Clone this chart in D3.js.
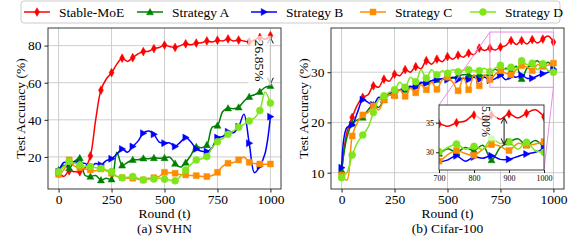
<!DOCTYPE html>
<html>
<head>
<meta charset="utf-8">
<script src="https://cdn.jsdelivr.net/npm/d3@7"></script>
<style>
  body { margin: 0; background: #fff; }
  svg { display: block; font-family: "Liberation Serif", "DejaVu Serif", serif; }
</style>
</head>
<body>
<div id="chart"></div>
<script>
// ---- data ----
const rounds = [0,25,50,75,100,125,150,175,200,225,250,275,300,325,350,375,400,425,450,475,
                500,525,550,575,600,625,650,675,700,725,750,775,800,825,850,875,900,925,950,975,1000];

const seriesNames = ["Stable-MoE", "Strategy A", "Strategy B", "Strategy C", "Strategy D"];

// (a) SVHN
const svhnStable = [12,9.5,12.5,12,12,14,20.5,40,56,62,65.4,70,73.2,71.5,73.5,75.5,76.8,77,78.4,79,
                    80.3,79.5,79,80,81,80.5,81.4,81.5,82.5,82,82.9,82.5,83.6,82.5,83,82.5,82,83,84.4,83.5,85.4];
const svhnA = [13,15.5,14,17.5,19.5,10,9.5,10,7.5,8.5,8,22.5,15.5,17,18.5,18.5,19.3,19,19.5,19.3,
               19.5,19.8,16.5,14.5,17,21,25.5,25,26.5,36,37,44.5,46.3,46,46.8,50,52.5,53.5,55.2,57.5,58.4];
const svhnB = [12,17,16.5,17.5,16.5,16.5,14.5,16.5,15.7,18,19,21.5,24.3,22.5,25.6,28.5,32.8,34,32.2,28,
               27.4,27.5,25.6,28,30.4,28,24.3,23,22.9,25,30.4,31,33.6,33,36.3,43,27.4,11.5,15,22,41.7];
const svhnC = [10.5,13,18.4,15,14.2,13.5,13,12.5,13.5,12.5,11.2,9.5,8.8,8.5,8.5,8,7.6,8.5,8.8,9.5,
               11.7,11.5,11.2,10.5,10.3,10,9.9,9.5,9.4,10,11.7,15,16.6,17,18.4,20,17.1,16.5,16.2,16,16.2];
const svhnD = [12,14.5,17.5,16.5,15.7,15,14.8,14.2,13.9,13,12.1,9.5,8.8,9,9.4,8.5,7.6,8,8.1,8.5,
               8,7.5,7.1,9.5,13,16,18.4,19,20.2,25,28.2,30,32.2,34,36,37.5,39.4,41,45,55,49];

// (b) Cifar-100
const cifStable = [10,18,21,23.5,25,25.5,27.3,27,28.6,28.2,29.6,29.3,30.5,30,31.1,30.7,32.3,31.6,32.6,32.1,
                   33.1,32.6,33.4,33,33.8,33.5,34.8,34.3,34.8,34.4,35,35.3,36.3,35.5,36.3,35.6,36.5,35.8,36.6,37.2,36];
const cifA = [10.5,17,19.8,20.5,21,22.5,23.5,23,24.5,25.5,25.5,26.5,26.5,27,27.3,27.8,28,28.3,28.5,28.7,
              29,28.8,29.3,29.5,29.5,29.2,29.5,29.3,29.8,30.6,30,30.8,30.3,31.2,28.7,30.8,31.7,32.3,31.2,32,30.8];
const cifB = [11,19,19.5,22,24.5,24,23.5,25,24.5,25.8,26,26.5,26.8,27.2,27,28,27.8,28.3,28.5,28.7,
              28.5,29,28.5,28.8,28.5,29,28.5,29,28.4,28.7,29.4,28.5,29.2,29,29.4,28.8,28.8,29.3,29.7,30,30.6];
const cifC = [9.5,8.5,17.3,20,21.5,22,23.3,22.5,24.5,25.5,25.3,26.5,25.2,26.8,25.9,27.5,26.5,28,26.6,28.5,
              29,28,26.3,29,26.5,29.5,27.3,29.5,28.5,29.6,30.3,29.8,29.5,30.5,31.3,31,30.3,31.5,31.2,31.4,31.8];
const cifD = [9,10,13.5,16,17.5,19,22,24.5,25.3,26,26.5,28,27,29,28.1,30.5,28.8,30.5,29.5,30.3,
              29.8,30.5,30.1,30.4,30.5,30.3,30.3,30.8,30.1,30.8,31.4,30.5,31,30.5,32.3,31.5,31.8,30.5,31.7,30.3,30];

const xTicks = [0, 250, 500, 750, 1000];
const svhnYTicks = [20, 40, 60, 80];
const cifYTicks = [10, 20, 30];
const insetXTicks = [700, 800, 900, 1000];
const insetYTicks = [30, 35];

// gap annotations: [round, upper value, lower value, label]
const svhnGap = [1000, 85.4, 58.4, "26.85%"];
const cifGap = [886, 35.9, 31.3, "5.00%"];

// ---- styles ----
const colors = ["#ff0000", "#008000", "#0000ff", "#ff8c00", "#7fe61c"];
const markers = ["thin_diamond", "triangle_up", "triangle_right", "square", "circle"];
const FONT = 13.5;
const W = 581, H = 242;
const fmt = d3.format("d");

const svg = d3.select("#chart").append("svg")
    .attr("width", W)
    .attr("height", H);
svg.append("rect").attr("width", W).attr("height", H).attr("fill", "#fff");
const defs = svg.append("defs");

function markerPath(type, s) {
  const h = s / 2;
  switch (type) {
    case "thin_diamond": return `M0,${-h * 1.25}L${h * 0.7},0L0,${h * 1.25}L${-h * 0.7},0Z`;
    case "triangle_up": return `M0,${-h}L${h},${h * 0.8}L${-h},${h * 0.8}Z`;
    case "triangle_right": return `M${h},0L${-h * 0.8},${h}L${-h * 0.8},${-h}Z`;
    case "square": return `M${-h * 0.85},${-h * 0.85}H${h * 0.85}V${h * 0.85}H${-h * 0.85}Z`;
    default: return `M${h},0A${h},${h} 0 1,1 ${-h},0A${h},${h} 0 1,1 ${h},0Z`;
  }
}

function drawSeries(g, x, y, values, i) {
  const pts = rounds.map((r, k) => [r, values[k]]);
  const line = d3.line()
      .x(d => x(d[0]))
      .y(d => y(d[1]))
      .curve(d3.curveCatmullRom.alpha(0.5));
  g.append("path")
      .attr("d", line(pts))
      .attr("fill", "none")
      .attr("stroke", colors[i])
      .attr("stroke-width", 1.5);
  g.append("g").selectAll("path")
      .data(pts.filter(d => d[0] % 50 === 0))
      .join("path")
      .attr("d", markerPath(markers[i], 7))
      .attr("transform", d => `translate(${x(d[0])},${y(d[1])})`)
      .attr("fill", colors[i])
      .attr("stroke", colors[i])
      .attr("stroke-width", 0.5);
}

function styleAxis(a, size) {
  a.select(".domain").remove();
  a.attr("font-family", null).attr("font-size", size).attr("color", "#222");
  a.selectAll("text").attr("fill", "#000");
}

// rotated label with a half transparent white box behind it
function gapLabel(g, cx, cy, label, size) {
  const tg = g.append("g").attr("transform", `translate(${cx},${cy}) rotate(90)`);
  const box = tg.append("rect").attr("fill", "#fff").attr("fill-opacity", 0.7);
  const t = tg.append("text")
      .attr("text-anchor", "middle")
      .attr("dy", "0.35em")
      .attr("font-size", size)
      .text(label);
  const bb = t.node().getBBox();
  const pad = size * 0.3;
  box.attr("x", bb.x - pad).attr("y", bb.y - pad)
     .attr("width", bb.width + 2 * pad).attr("height", bb.height + 2 * pad);
}

function gapArrow(g, px, pTop, pBot) {
  const hw = 3, hl = 6;
  g.append("path")
      .attr("d", `M${px},${pTop}V${pBot}M${px - hw},${pTop + hl}L${px},${pTop}L${px + hw},${pTop + hl}` +
                 `M${px - hw},${pBot - hl}L${px},${pBot}L${px + hw},${pBot - hl}`)
      .attr("fill", "none")
      .attr("stroke", "#333")
      .attr("stroke-width", 1.1);
}

function drawPanel(cfg) {
  const x = d3.scaleLinear().domain([-50, 1050]).range([cfg.left, cfg.right]);
  const y = d3.scaleLinear().domain(cfg.yDomain).range([cfg.bottom, cfg.top]);
  const g = svg.append("g");

  // grid
  g.append("g").selectAll("line").data(xTicks).join("line")
      .attr("x1", d => x(d)).attr("x2", d => x(d))
      .attr("y1", cfg.top).attr("y2", cfg.bottom)
      .attr("stroke", "#c8c8c8").attr("stroke-width", 0.9);
  g.append("g").selectAll("line").data(cfg.yTicks).join("line")
      .attr("y1", d => y(d)).attr("y2", d => y(d))
      .attr("x1", cfg.left).attr("x2", cfg.right)
      .attr("stroke", "#c8c8c8").attr("stroke-width", 0.9);

  defs.append("clipPath").attr("id", "clip-" + cfg.id).append("rect")
      .attr("x", cfg.left).attr("y", cfg.top)
      .attr("width", cfg.right - cfg.left).attr("height", cfg.bottom - cfg.top);
  const plot = g.append("g").attr("clip-path", `url(#clip-${cfg.id})`);
  cfg.series.forEach((vals, i) => drawSeries(plot, x, y, vals, i));

  g.append("rect")
      .attr("x", cfg.left).attr("y", cfg.top)
      .attr("width", cfg.right - cfg.left).attr("height", cfg.bottom - cfg.top)
      .attr("fill", "none").attr("stroke", "#3a3a3a").attr("stroke-width", 1);

  g.append("g")
      .attr("transform", `translate(0,${cfg.bottom})`)
      .call(d3.axisBottom(x).tickValues(xTicks).tickFormat(fmt).tickSize(3.5).tickPadding(1.5))
      .call(a => styleAxis(a, FONT));
  g.append("g")
      .attr("transform", `translate(${cfg.left},0)`)
      .call(d3.axisLeft(y).tickValues(cfg.yTicks).tickFormat(fmt).tickSize(3.5).tickPadding(3))
      .call(a => styleAxis(a, FONT));

  const cx = (cfg.left + cfg.right) / 2;
  g.append("text").attr("x", cx).attr("y", 218).attr("text-anchor", "middle")
      .attr("font-size", FONT).text("Round (t)");
  g.append("text").attr("x", cx).attr("y", 233).attr("text-anchor", "middle")
      .attr("font-size", FONT).text(cfg.title);
  g.append("text")
      .attr("transform", `translate(${cfg.left - 23},${(cfg.top + cfg.bottom) / 2}) rotate(-90)`)
      .attr("text-anchor", "middle")
      .attr("font-size", FONT)
      .text("Test Accuracy (%)");
  return {x, y, g};
}

// ---- (a) SVHN ----
const pa = drawPanel({
  id: "svhn", left: 48, right: 281, top: 28, bottom: 189,
  yDomain: [2.7, 89.5], yTicks: svhnYTicks, title: "(a) SVHN",
  series: [svhnStable, svhnA, svhnB, svhnC, svhnD]
});
gapArrow(pa.g, pa.x(svhnGap[0]), pa.y(svhnGap[1]) + 2, pa.y(svhnGap[2]) - 2);
gapLabel(pa.g, pa.x(950), pa.y((svhnGap[1] + svhnGap[2]) / 2), svhnGap[3], FONT);

// ---- (b) Cifar-100 ----
const pb = drawPanel({
  id: "cifar", left: 331, right: 564, top: 28, bottom: 189,
  yDomain: [6.75, 38.8], yTicks: cifYTicks, title: "(b) Cifar-100",
  series: [cifStable, cifA, cifB, cifC, cifD]
});

// inset (zoom on rounds 700-1000)
const ins = {left: 439, right: 544, top: 105, bottom: 170};
const ix = d3.scaleLinear().domain([700, 1000]).range([ins.left, ins.right]);
const iy = d3.scaleLinear().domain([27, 38]).range([ins.bottom, ins.top]);
const zoomColor = "#e98be9";

pb.g.append("rect")
    .attr("x", pb.x(700)).attr("y", pb.y(38))
    .attr("width", pb.x(1000) - pb.x(700)).attr("height", pb.y(27) - pb.y(38))
    .attr("fill", "none").attr("stroke", zoomColor).attr("stroke-width", 1);
pb.g.append("path")
    .attr("d", `M${pb.x(700)},${pb.y(38)}L${ins.left},${ins.top}M${pb.x(1000)},${pb.y(27)}L${ins.right},${ins.bottom}`)
    .attr("stroke", zoomColor).attr("stroke-width", 1).attr("fill", "none");

const ig = svg.append("g");
ig.append("rect")
    .attr("x", ins.left).attr("y", ins.top)
    .attr("width", ins.right - ins.left).attr("height", ins.bottom - ins.top)
    .attr("fill", "#fff");
defs.append("clipPath").attr("id", "clip-inset").append("rect")
    .attr("x", ins.left).attr("y", ins.top)
    .attr("width", ins.right - ins.left).attr("height", ins.bottom - ins.top);
const iplot = ig.append("g").attr("clip-path", "url(#clip-inset)");
[cifStable, cifA, cifB, cifC, cifD].forEach((vals, i) => drawSeries(iplot, ix, iy, vals, i));
gapArrow(ig, ix(cifGap[0]), iy(cifGap[1]), iy(cifGap[2]));
gapLabel(ig, ix(836), iy(35.2), cifGap[3], 12);
ig.append("rect")
    .attr("x", ins.left).attr("y", ins.top)
    .attr("width", ins.right - ins.left).attr("height", ins.bottom - ins.top)
    .attr("fill", "none").attr("stroke", "#3a3a3a").attr("stroke-width", 1);
ig.append("g")
    .attr("transform", `translate(0,${ins.bottom})`)
    .call(d3.axisBottom(ix).tickValues(insetXTicks).tickFormat(fmt).tickSize(3).tickPadding(2))
    .call(a => styleAxis(a, 8));
ig.append("g")
    .attr("transform", `translate(${ins.left},0)`)
    .call(d3.axisLeft(iy).tickValues(insetYTicks).tickFormat(fmt).tickSize(3).tickPadding(2))
    .call(a => styleAxis(a, 8));

// ---- legend ----
const legendX = [24, 137, 251, 360, 470];
const lg = svg.append("g");
lg.append("rect")
    .attr("x", 21).attr("y", 1).attr("width", 539).attr("height", 22).attr("rx", 3)
    .attr("fill", "#fff").attr("stroke", "#cccccc").attr("stroke-width", 1);
seriesNames.forEach((name, i) => {
  const item = lg.append("g").attr("transform", `translate(${legendX[i]},12)`);
  item.append("line").attr("x1", 0).attr("x2", 26)
      .attr("stroke", colors[i]).attr("stroke-width", 1.5);
  item.append("path").attr("d", markerPath(markers[i], 7))
      .attr("transform", "translate(13,0)")
      .attr("fill", colors[i]).attr("stroke", colors[i]).attr("stroke-width", 0.5);
  item.append("text").attr("x", 35).attr("dy", "0.35em")
      .attr("font-size", FONT).text(name);
});
</script>
</body>
</html>
